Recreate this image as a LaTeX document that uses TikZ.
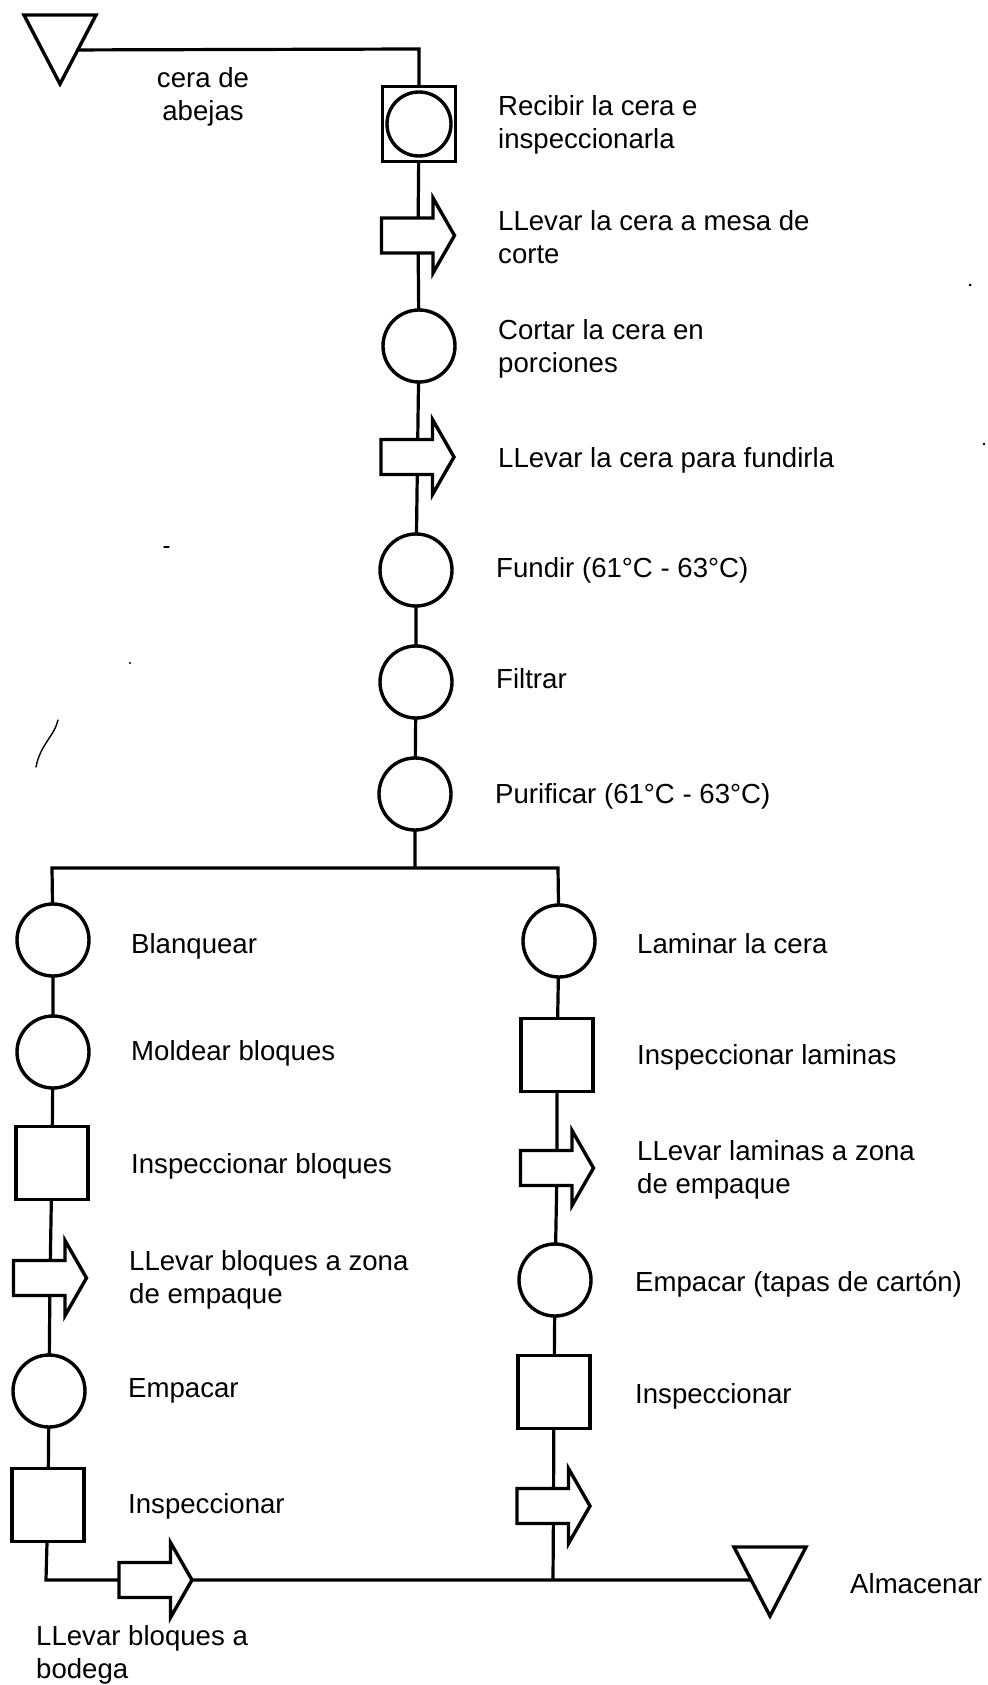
\documentclass[tikz,border=0pt]{standalone}
\usepackage{fontspec}
\setmainfont{Liberation Sans}
\usetikzlibrary{backgrounds}
\newcommand{\transp}[1]{\draw[shp,shift={(#1.center)}] (-36.5,-17.5) -- (15,-17.5) -- (15,-37.5) -- (36.5,0) -- (15,37.5) -- (15,17.5) -- (-36.5,17.5) -- cycle;}
\newcommand{\storetri}[1]{\draw[shp,shift={(#1.center)}] (-36,-35) -- (36,-35) -- (0,34) -- cycle;}
\tikzset{
  shp/.style={draw=black, fill=white, line width=3.4pt},
  circ/.style={shp, circle, minimum size=72pt, inner sep=0pt},
  sqr/.style={shp, rectangle, minimum width=72pt, minimum height=73pt, inner sep=0pt},
  tbox/.style={rectangle, minimum width=75pt, minimum height=78pt, inner sep=0pt},
  lbl/.style={font=\fontsize{27.6pt}{33pt}\selectfont, anchor=north west, inner sep=0pt, align=left},
  conn/.style={line width=3.2pt, black},
  noise/.style={line width=1.4pt, black, line cap=round}
}
\begin{document}
\begin{tikzpicture}[x=1pt,y=-1pt]
\useasboundingbox (0,0) rectangle (987,1685);
% ---------- main column ----------
\node[tbox] (tri0) at (60,50) {};
\node[sqr, minimum width=73pt, minimum height=75pt] (rec) at (419,124) {};
\node[circ, minimum size=64pt] (recc) at (419,124) {};
\node[tbox] (t1) at (418,235.5) {};
\node[circ] (c2) at (419,346) {};
\node[tbox] (t2) at (417.5,457) {};
\node[circ] (c3) at (416,570) {};
\node[circ] (c4) at (416,682) {};
\node[circ] (c5) at (415,794) {};
\coordinate (top) at (419,49);
\coordinate (jM) at (415,868);
\coordinate (jL) at (52,868);
\coordinate (jR) at (558,868);
% ---------- left column ----------
\node[circ] (L1) at (53,940) {};
\node[circ] (L2) at (53,1052) {};
\node[sqr] (L3) at (52,1163) {};
\node[tbox] (L4) at (50,1278) {};
\node[circ] (L5) at (49,1391) {};
\node[sqr] (L6) at (48,1505) {};
\coordinate (cor) at (46,1580);
\node[tbox] (B) at (155.5,1580) {};
% ---------- right column ----------
\node[circ] (R1) at (559,941) {};
\node[sqr] (R2) at (557,1055) {};
\node[tbox] (R3) at (557,1168) {};
\node[circ] (R4) at (555,1280) {};
\node[sqr] (R5) at (554,1392) {};
\node[tbox] (R6) at (553.5,1506) {};
\coordinate (jB) at (553,1580);
\node[tbox] (alm) at (770,1582) {};
% ---------- connectors (behind) ----------
\begin{pgfonlayer}{background}
\draw[conn] (tri0.center) -- (top) -- (rec.center) -- (t1.center) -- (c2.center) -- (t2.center) -- (c3.center) -- (c4.center) -- (c5.center) -- (jM);
\draw[conn] (L1.center) -- (jL) -- (jR) -- (R1.center);
\draw[conn] (L1.center) -- (L2.center) -- (L3.center) -- (L4.center) -- (L5.center) -- (L6.center) -- (cor) -- (B.center) -- (jB) -- (jB -| alm.center);
\draw[conn] (R1.center) -- (R2.center) -- (R3.center) -- (R4.center) -- (R5.center) -- (R6.center) -- (jB);
\end{pgfonlayer}
% ---------- transport arrows and storage triangles ----------
\transp{t1}
\transp{t2}
\transp{L4}
\transp{B}
\transp{R3}
\transp{R6}
\storetri{tri0}
\storetri{alm}
% ---------- labels ----------
\node[lbl, anchor=north, align=center] (lab0) at (203,67) {cera de\\abejas};
\node[lbl] (lab1) at (498,95) {Recibir la cera e\\inspeccionarla};
\node[lbl] (lab2) at (498,210) {LLevar la cera a mesa de\\corte};
\node[lbl] (lab3) at (498,319) {Cortar la cera en\\porciones};
\node[lbl] (lab4) at (498,447) {LLevar la cera para fundirla};
\node[lbl] (lab5) at (496,557) {Fundir (61°C - 63°C)};
\node[lbl] (lab6) at (496,668) {Filtrar};
\node[lbl] (lab7) at (495,783) {Purificar (61°C - 63°C)};
\node[lbl] (lab8) at (131,933) {Blanquear};
\node[lbl] (lab9) at (131,1040) {Moldear bloques};
\node[lbl] (lab10) at (131,1153) {Inspeccionar bloques};
\node[lbl] (lab11) at (129,1250) {LLevar bloques a zona\\de empaque};
\node[lbl] (lab12) at (128,1378) {Empacar};
\node[lbl] (lab13) at (128,1493) {Inspeccionar};
\node[lbl] (lab14) at (36,1625) {LLevar bloques a\\bodega};
\node[lbl] (lab15) at (637,933) {Laminar la cera};
\node[lbl] (lab16) at (637,1044) {Inspeccionar laminas};
\node[lbl] (lab17) at (637,1140) {LLevar laminas a zona\\de empaque};
\node[lbl] (lab18) at (635,1271) {Empacar (tapas de cartón)};
\node[lbl] (lab19) at (635,1383) {Inspeccionar};
\node[lbl] (lab20) at (850,1573) {Almacenar};
% ---------- scan marks ----------
\draw[noise] (58,720) .. controls (55,735) and (40,745) .. (36,767);
\draw[noise] (164,547) -- (169,547);
\fill (130,663) circle (1.2);
\fill (970,285) circle (1.5);
\fill (984,444) circle (1.3);
\end{tikzpicture}
\end{document}
